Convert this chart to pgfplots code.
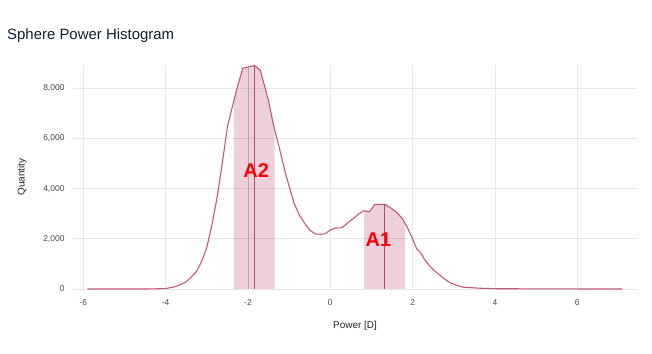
\documentclass[border=0pt]{standalone}
\usepackage{pgfplots}
\pgfplotsset{compat=1.18}
\usepgfplotslibrary{fillbetween}
\usepackage{fontspec}
\setmainfont{Liberation Sans}
\definecolor{curve}{RGB}{184,72,110}
\definecolor{gridc}{RGB}{231,231,231}
\definecolor{ticklab}{RGB}{70,70,70}
\definecolor{titlec}{RGB}{16,30,46}
\pgfplotstableread{
x y
-5.90 0
-5.0 0
-4.5 0
-4.0 15
-3.75 100
-3.5 280
-3.25 700
-3.125 1100
-3.0 1650
-2.875 2550
-2.75 3650
-2.625 5000
-2.5 6450
-2.375 7300
-2.25 8100
-2.125 8800
-2.0 8850
-1.84 8910
-1.70 8720
-1.5 7500
-1.375 6500
-1.25 5700
-1.09 4620
-1.0 4100
-0.875 3400
-0.75 2950
-0.625 2620
-0.5 2350
-0.375 2200
-0.25 2180
-0.125 2200
0.0 2350
0.12 2430
0.28 2440
0.4 2600
0.55 2800
0.70 3000
0.81 3120
0.95 3080
1.08 3370
1.33 3370
1.45 3250
1.62 3050
1.75 2800
1.86 2490
2.0 2000
2.10 1600
2.18 1480
2.3 1150
2.43 890
2.55 700
2.75 430
2.91 250
3.1 130
3.24 70
3.64 30
4.0 12
5.0 5
6.0 2
7.08 0
}\datatable
\begin{document}
\begin{tikzpicture}
\begin{axis}[
  at={(73bp,65bp)}, anchor=south west,
  scale only axis, width=564bp, height=224bp,
  xmin=-6.25, xmax=7.45, ymin=0, ymax=8930,
  xtick={-6,-4,...,6}, ytick={0,2000,...,8000},
  grid=major, major grid style={gridc, line width=0.9bp},
  axis line style={draw=none}, tick style={draw=none},
  scaled y ticks=false,
  /pgf/number format/assume math mode=true,
  /pgf/number format/1000 sep={,},
  ticklabel style={font=\fontsize{8.5}{10}\selectfont, text=ticklab},
  xticklabel style={yshift=-7bp},
  yticklabel style={xshift=-5bp},
  xlabel={Power [D]}, ylabel={Quantity},
  label style={font=\fontsize{10}{12}\selectfont, text=black!85},
  xlabel style={at={(axis description cs:0.5,0)}, anchor=center, yshift=-37bp},
  ylabel style={at={(axis description cs:0,0.5)}, anchor=center, yshift=51bp},
  clip=false,
]
\addplot[draw=none, name path=curveA, forget plot] table[x=x,y=y] {\datatable};
\addplot[draw=none, name path=base, forget plot] coordinates {(-6,0) (7.2,0)};
\addplot[fill=curve, fill opacity=0.26, draw=none] fill between[of=curveA and base, soft clip={domain=-2.34:-1.35}];
\addplot[fill=curve, fill opacity=0.26, draw=none] fill between[of=curveA and base, soft clip={domain=0.82:1.81}];
\addplot[curve, line width=1.1bp, opacity=0.9] table[x=x,y=y] {\datatable};
\addplot[curve, opacity=0.25, line width=0.9bp] coordinates {(-1.98,0) (-1.98,8850)};
\addplot[curve, line width=1bp] coordinates {(-1.84,0) (-1.84,8910)};
\addplot[curve, line width=1bp] coordinates {(1.31,0) (1.31,3370)};
\node[text=red, font=\fontsize{20}{24}\selectfont\bfseries] at (axis cs:-1.80,4715) {A2};
\node[text=red, font=\fontsize{20}{24}\selectfont\bfseries] at (axis cs:1.17,1953) {A1};
\end{axis}
\node[anchor=base west, font=\fontsize{15}{18}\selectfont, text=titlec, inner sep=0] at (7bp,314.5bp) {Sphere Power Histogram};
\pgfresetboundingbox
\useasboundingbox (0,0) rectangle (652bp,354bp);
\end{tikzpicture}
\end{document}
